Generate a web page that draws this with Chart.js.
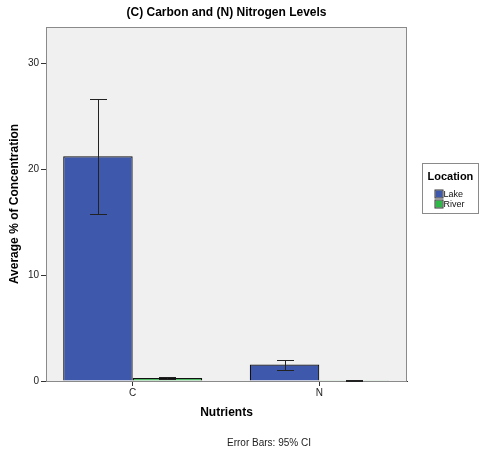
<!DOCTYPE html>
<html>
<head>
<meta charset="utf-8">
<script src="https://cdn.jsdelivr.net/npm/chart.js@4"></script>
<style>
  html, body { margin: 0; padding: 0; background: #fff; }
  #wrap { width: 479px; height: 452px; }
</style>
</head>
<body>
<div id="wrap"><canvas id="chart" width="479" height="452"></canvas></div>
<script>
// Values
const categories = ['C', 'N'];
const seriesNames = ['Lake', 'River'];
const lakeMeans = [21.2, 1.55];
const riverMeans = [0.28, 0.03];
// 95% CI bounds
const lakeLow = [15.8, 1.08];
const lakeHigh = [26.65, 1.98];
const riverLow = [0.15, 0.0];
const riverHigh = [0.4, 0.06];
const yTicks = [0, 10, 20, 30];

const FONT = 'Arial, "Liberation Sans", sans-serif';
const colors = ['#3E58AC', '#2EB848'];

function points(values) {
  return categories.map((c, i) => ({ x: i, y: values[i] }));
}

// background, plot frame, error bars, legend and footnote
const spssLook = {
  id: 'spssLook',
  beforeDatasetsDraw(chart) {
    const { ctx, chartArea: a } = chart;
    ctx.save();
    ctx.fillStyle = '#f0f0f0';
    ctx.fillRect(a.left, a.top, a.right - a.left, a.bottom - a.top);
    ctx.strokeStyle = '#8a8a8a';
    ctx.lineWidth = 1;
    ctx.strokeRect(a.left + 0.5, a.top + 0.5, a.right - a.left - 1, a.bottom - a.top);
    ctx.restore();
  },
  afterDatasetsDraw(chart) {
    const { ctx } = chart;
    const y = chart.scales.y;
    const bounds = [[lakeLow, lakeHigh], [riverLow, riverHigh]];
    ctx.save();
    ctx.strokeStyle = '#222';
    ctx.lineWidth = 1;
    chart.data.datasets.forEach((ds, d) => {
      chart.getDatasetMeta(d).data.forEach((bar, i) => {
        const x = Math.round(bar.x) + 0.5;
        const lo = Math.round(y.getPixelForValue(bounds[d][0][i])) + 0.5;
        const hi = Math.round(y.getPixelForValue(bounds[d][1][i])) + 0.5;
        ctx.beginPath();
        ctx.moveTo(x, lo); ctx.lineTo(x, hi);
        ctx.moveTo(x - 8.5, lo); ctx.lineTo(x + 8.5, lo);
        ctx.moveTo(x - 8.5, hi); ctx.lineTo(x + 8.5, hi);
        ctx.stroke();
      });
    });
    ctx.restore();
  },
  afterDraw(chart) {
    const { ctx, chartArea: a } = chart;
    ctx.save();
    // legend box
    const lx = a.right + 15.5, ly = 163.5;
    ctx.strokeStyle = '#8a8a8a';
    ctx.lineWidth = 1;
    ctx.strokeRect(lx, ly, 56, 50);
    ctx.fillStyle = '#000';
    ctx.font = 'bold 11px ' + FONT;
    ctx.textBaseline = 'middle';
    ctx.textAlign = 'left';
    ctx.fillText('Location', lx + 5, ly + 13);
    ctx.font = '9px ' + FONT;
    seriesNames.forEach((name, i) => {
      const sy = ly + 27 + i * 10;
      ctx.fillStyle = colors[i];
      ctx.fillRect(lx + 13, sy, 7, 7);
      ctx.strokeStyle = '#333';
      ctx.strokeRect(lx + 12.5, sy - 0.5, 8, 8);
      ctx.fillStyle = '#111';
      ctx.fillText(name, lx + 21, sy + 4);
    });
    // footnote
    ctx.font = '10px ' + FONT;
    ctx.fillStyle = '#222';
    ctx.textAlign = 'center';
    ctx.fillText('Error Bars: 95% CI', 269, 443);
    ctx.restore();
  }
};

new Chart(document.getElementById('chart'), {
  type: 'bar',
  data: {
    datasets: [
      { label: seriesNames[0], data: points(lakeMeans), backgroundColor: colors[0], borderColor: '#111' },
      { label: seriesNames[1], data: points(riverMeans), backgroundColor: colors[1], borderColor: '#111' }
    ]
  },
  options: {
    responsive: false,
    animation: false,
    layout: { padding: { left: 0, right: 72, top: 0, bottom: 21 } },
    datasets: {
      bar: {
        borderWidth: { top: 1.2, left: 1.2, right: 1.2, bottom: 0 },
        borderSkipped: false,
        categoryPercentage: 0.745,
        barPercentage: 1
      }
    },
    plugins: {
      legend: { display: false },
      tooltip: { enabled: false },
      title: {
        display: true,
        text: '(C) Carbon and (N) Nitrogen Levels',
        fullSize: false,
        color: '#000',
        font: { family: FONT, size: 12, weight: 'bold' },
        padding: { top: 5, bottom: 7.6 }
      }
    },
    scales: {
      x: {
        type: 'linear',
        offset: false,
        min: -0.4646,
        max: 1.47,
        afterFit(s) { s.height = 50; },
        afterBuildTicks(s) { s.ticks = categories.map((c, i) => ({ value: i })); },
        ticks: {
          callback: (v) => categories[v],
          color: '#222',
          font: { family: FONT, size: 10 },
          padding: 1,
          maxRotation: 0
        },
        grid: { offset: false, drawOnChartArea: false, tickLength: 5, color: '#333' },
        border: { display: true, color: '#333' },
        title: {
          display: true,
          text: 'Nutrients',
          color: '#000',
          font: { family: FONT, size: 12, weight: 'bold' },
          padding: { top: 0, bottom: 10.8 }
        }
      },
      y: {
        min: 0,
        max: 33.4,
        afterFit(s) { s.width = 46; },
        afterBuildTicks(s) { s.ticks = yTicks.map(v => ({ value: v })); },
        ticks: {
          color: '#222',
          font: { family: FONT, size: 10 },
          padding: 2
        },
        grid: { drawOnChartArea: false, tickLength: 5, color: '#333' },
        border: { display: true, color: '#333' },
        title: {
          display: true,
          text: 'Average % of Concentration',
          color: '#000',
          font: { family: FONT, size: 12, weight: 'bold' },
          padding: { top: 7, bottom: 0 }
        }
      }
    }
  },
  plugins: [spssLook]
});
</script>
</body>
</html>
